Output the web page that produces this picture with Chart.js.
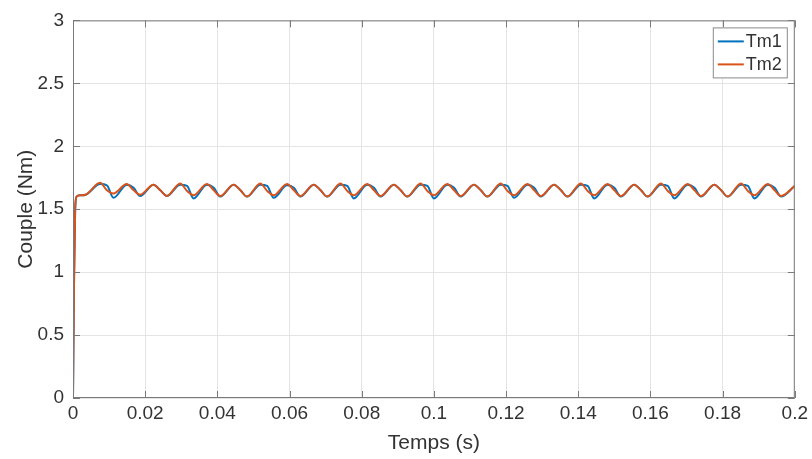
<!DOCTYPE html>
<html>
<head>
<meta charset="utf-8">
<script src="https://cdn.jsdelivr.net/npm/chart.js@4/dist/chart.umd.min.js"></script>
<style>
  html, body { margin: 0; padding: 0; background: #fff; }
  #wrap { width: 812px; height: 459px; }
</style>
</head>
<body>
<div id="wrap"><canvas id="couple"></canvas></div>
<script>
// temps (s): montee initiale, puis crete / mi-descente / creux pour chaque ondulation
const temps = [0, 0.0003, 0.0006, 0.001, 0.002, 0.0035,
  0.0075, 0.0094, 0.0112,  0.0149, 0.0168, 0.0186,  0.0223, 0.0242, 0.0260,
  0.0297, 0.0316, 0.0334,  0.0371, 0.0390, 0.0408,  0.0445, 0.0464, 0.0482,
  0.0519, 0.0538, 0.0556,  0.0593, 0.0612, 0.0630,  0.0667, 0.0686, 0.0704,
  0.0741, 0.0760, 0.0778,  0.0815, 0.0834, 0.0852,  0.0889, 0.0908, 0.0926,
  0.0963, 0.0982, 0.1000,  0.1037, 0.1056, 0.1074,  0.1111, 0.1130, 0.1148,
  0.1185, 0.1204, 0.1222,  0.1259, 0.1278, 0.1296,  0.1333, 0.1352, 0.1370,
  0.1407, 0.1426, 0.1444,  0.1481, 0.1500, 0.1518,  0.1555, 0.1574, 0.1592,
  0.1629, 0.1648, 0.1666,  0.1703, 0.1722, 0.1740,  0.1777, 0.1796, 0.1814,
  0.1851, 0.1870, 0.1888,  0.1925, 0.1944, 0.1962,  0.2000];

const tm1 = [0, 0.95, 1.5, 1.6, 1.61, 1.615,
  1.70, 1.69, 1.59,     1.695, 1.67, 1.605,   1.695, 1.65, 1.605,
  1.695, 1.685, 1.585,  1.695, 1.67, 1.60,    1.695, 1.65, 1.60,
  1.695, 1.685, 1.59,   1.69, 1.67, 1.60,     1.695, 1.65, 1.60,
  1.695, 1.685, 1.585,  1.695, 1.67, 1.60,    1.695, 1.65, 1.60,
  1.695, 1.685, 1.585,  1.695, 1.67, 1.60,    1.695, 1.65, 1.60,
  1.695, 1.685, 1.59,   1.695, 1.67, 1.60,    1.695, 1.65, 1.60,
  1.695, 1.685, 1.585,  1.695, 1.67, 1.60,    1.695, 1.65, 1.60,
  1.695, 1.685, 1.585,  1.695, 1.67, 1.60,    1.695, 1.65, 1.60,
  1.695, 1.685, 1.585,  1.695, 1.67, 1.60,    1.685];

const tm2 = [0, 0.95, 1.5, 1.6, 1.61, 1.615,
  1.71, 1.65, 1.625,    1.70, 1.65, 1.615,    1.695, 1.65, 1.605,
  1.705, 1.645, 1.61,   1.70, 1.65, 1.605,    1.695, 1.65, 1.60,
  1.705, 1.645, 1.61,   1.70, 1.65, 1.605,    1.695, 1.65, 1.60,
  1.705, 1.645, 1.61,   1.70, 1.65, 1.605,    1.695, 1.65, 1.60,
  1.705, 1.645, 1.61,   1.70, 1.65, 1.605,    1.695, 1.65, 1.60,
  1.705, 1.645, 1.61,   1.70, 1.65, 1.605,    1.695, 1.65, 1.60,
  1.705, 1.645, 1.61,   1.70, 1.65, 1.605,    1.695, 1.65, 1.60,
  1.705, 1.645, 1.61,   1.70, 1.65, 1.605,    1.695, 1.65, 1.60,
  1.705, 1.645, 1.61,   1.70, 1.65, 1.605,    1.685];

const xTicks = [0, 0.02, 0.04, 0.06, 0.08, 0.1, 0.12, 0.14, 0.16, 0.18, 0.2];
const yTicks = [0, 0.5, 1, 1.5, 2, 2.5, 3];

const FONT = "'Liberation Sans', Arial, Helvetica, sans-serif";
const INK = '#333';

// cadre + graduations vers l'interieur, style matlab
const boxPlugin = {
  id: 'boxPlugin',
  afterDatasetsDraw(chart) {
    const {ctx, chartArea: a, scales: {x, y}} = chart;
    ctx.save();
    ctx.strokeStyle = '#7a7a7a';
    ctx.lineWidth = 1;
    ctx.strokeRect(a.left + 0.5, a.top + 0.5, a.right - a.left - 1, a.bottom - a.top - 1);
    ctx.beginPath();
    xTicks.forEach(v => {
      const px = Math.round(x.getPixelForValue(v)) + 0.5;
      ctx.moveTo(px, a.bottom); ctx.lineTo(px, a.bottom - 7);
      ctx.moveTo(px, a.top); ctx.lineTo(px, a.top + 7);
    });
    yTicks.forEach(v => {
      const py = Math.round(y.getPixelForValue(v)) + 0.5;
      ctx.moveTo(a.left, py); ctx.lineTo(a.left + 7, py);
      ctx.moveTo(a.right, py); ctx.lineTo(a.right - 7, py);
    });
    ctx.stroke();
    ctx.restore();
  },
  afterDraw(chart) {
    // legende encadree en haut a droite
    const {ctx, chartArea: a} = chart;
    const w = 75, h = 51;
    const lx = a.right - 7 - w, ly = a.top + 7;
    ctx.save();
    ctx.fillStyle = '#fff';
    ctx.fillRect(lx, ly, w, h);
    ctx.strokeStyle = '#8a8a8a';
    ctx.lineWidth = 1;
    ctx.strokeRect(lx + 0.5, ly + 0.5, w - 1, h - 1);
    ctx.font = '18px ' + FONT;
    ctx.textBaseline = 'middle';
    chart.data.datasets.forEach((ds, i) => {
      const cy = ly + 14 + i * 23;
      ctx.strokeStyle = ds.borderColor;
      ctx.lineWidth = 2;
      ctx.beginPath();
      ctx.moveTo(lx + 5, cy); ctx.lineTo(lx + 31, cy);
      ctx.stroke();
      ctx.fillStyle = INK;
      ctx.fillText(ds.label, lx + 33, cy + 1);
    });
    ctx.restore();
  }
};

new Chart(document.getElementById('couple'), {
  type: 'line',
  data: {
    datasets: [{
      label: 'Tm1',
      data: temps.map((t, i) => ({x: t, y: tm1[i]})),
      borderColor: '#0072BD',
      borderWidth: 2,
      pointRadius: 0,
      cubicInterpolationMode: 'monotone',
      order: 1
    }, {
      label: 'Tm2',
      data: temps.map((t, i) => ({x: t, y: tm2[i]})),
      borderColor: '#D95319',
      borderWidth: 2,
      pointRadius: 0,
      cubicInterpolationMode: 'monotone',
      order: 0
    }]
  },
  options: {
    responsive: true,
    maintainAspectRatio: false,
    animation: false,
    layout: { padding: { top: 18, right: 16, left: 0, bottom: 0 } },
    plugins: { legend: { display: false }, tooltip: { enabled: false } },
    scales: {
      x: {
        type: 'linear',
        min: 0, max: 0.2,
        afterBuildTicks: s => { s.ticks = xTicks.map(v => ({value: v})); },
        afterFit: s => { s.height = 61; },
        grid: { color: '#e4e4e4', drawTicks: false },
        border: { display: false },
        ticks: {
          padding: 4,
          color: INK,
          font: { family: FONT, size: 19 },
          maxRotation: 0,
          callback: v => String(Number(v.toFixed(2)))
        },
        title: {
          display: true, text: 'Temps (s)', color: INK,
          font: { family: FONT, size: 21 },
          padding: { top: 0, bottom: 3 }
        }
      },
      y: {
        min: 0, max: 3,
        afterBuildTicks: s => { s.ticks = yTicks.map(v => ({value: v})); },
        afterFit: s => { s.width = 73; },
        grid: { color: '#e4e4e4', drawTicks: false },
        border: { display: false },
        ticks: {
          padding: 9,
          color: INK,
          font: { family: FONT, size: 19 },
          callback: v => String(v)
        },
        title: {
          display: true, text: 'Couple (Nm)', color: INK,
          font: { family: FONT, size: 21 },
          padding: { top: 14, bottom: 0 }
        }
      }
    }
  },
  plugins: [boxPlugin]
});
</script>
</body>
</html>
